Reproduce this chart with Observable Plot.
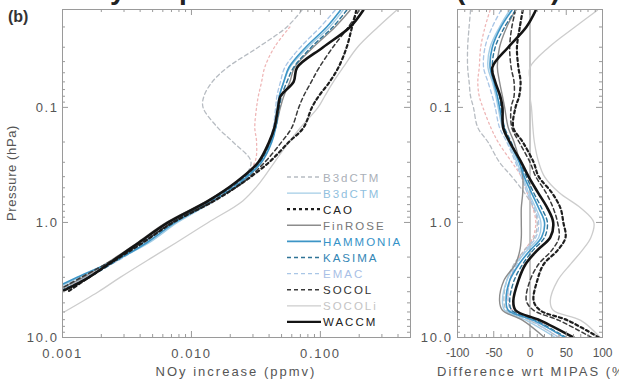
<!DOCTYPE html>
<html><head><meta charset="utf-8">
<script src="https://cdn.jsdelivr.net/npm/d3@7"></script>
<script src="https://cdn.jsdelivr.net/npm/@observablehq/plot@0.6"></script>
<style>
body{margin:0;background:#fff;}
#wrap{position:relative;width:619px;height:381px;overflow:hidden;font-family:"Liberation Sans",Arial,sans-serif;}
#wrap svg{position:absolute;top:0;overflow:visible;}
</style></head><body><div id="wrap"></div>
<script>
// ---------- data ----------
const seriesNames = ["B3dCTM","B3dCTM","CAO","FinROSE","HAMMONIA","KASIMA","EMAC","SOCOL","SOCOLi","WACCM"];
// pressure levels (hPa) for the NOy increase panel
const pLeft = [0.0143,0.02,0.03,0.045,0.06,0.08,0.1,0.15,0.2,0.3,0.45,0.65,1.0,1.5,2.0,3.0,4.0,6.0];
const incB3dCTMdash = [0.072,0.055,0.033,0.019,0.0145,0.0125,0.0123,0.016,0.021,0.029,0.023,0.014,0.0068,0.004,0.0027,0.0015,0.0009,null];
const incB3dCTM     = [0.15,0.118,0.08,0.058,0.052,0.048,0.046,0.044,0.041,0.034,0.024,0.015,0.0078,0.0047,0.0029,0.00135,0.0008,null];
const incCAO        = [0.19,0.176,0.16,0.138,0.118,0.097,0.086,0.074,0.057,0.040,0.025,0.015,0.0072,0.0042,0.0028,0.0016,0.0011,null];
const incFinROSE    = [0.17,0.13,0.088,0.063,0.058,0.052,0.049,0.045,0.041,0.033,0.022,0.0132,0.0064,0.0038,0.0026,0.00145,0.00085,null];
const incHAMMONIA   = [0.143,0.112,0.077,0.057,0.052,0.048,0.047,0.045,0.042,0.035,0.024,0.0148,0.0075,0.0045,0.0029,0.0013,0.00075,null];
const incKASIMA     = [0.16,0.125,0.085,0.062,0.055,0.05,0.048,0.045,0.041,0.034,0.023,0.0142,0.0071,0.0042,0.0029,0.0016,0.00092,null];
const incEMAC       = [0.13,0.1,0.07,0.053,0.049,0.046,0.045,0.043,0.04,0.033,0.023,0.0145,0.0074,0.0044,0.003,0.0015,0.0008,null];
const incSOCOL      = [0.2,0.165,0.125,0.098,0.085,0.074,0.068,0.060,0.050,0.037,0.025,0.0148,0.0071,0.0041,0.0027,0.0014,0.00088,null];
const incSOCOLi     = [0.39,0.28,0.194,0.15,0.126,0.108,0.096,0.07,0.057,0.044,0.034,0.025,0.0135,0.0076,0.005,0.0028,0.0019,0.00103];
const incWACCM      = [0.215,0.17,0.105,0.066,0.062,0.049,0.047,0.044,0.040,0.033,0.022,0.0135,0.0066,0.0039,0.0027,0.0016,0.00098,null];
const incUnlabeled  = [null,0.058,0.044,0.037,0.035,0.033,0.032,0.031,0.032,0.031,0.023,0.014,0.0069,0.004,0.0027,0.0015,0.0009,null];

// pressure levels (hPa) for the difference panel
const pRight = [0.0143,0.02,0.03,0.045,0.06,0.08,0.1,0.15,0.2,0.3,0.4,0.55,0.75,1.0,1.35,1.75,2.3,3.2,4.8,5.8,7.1,10];
const difB3dCTMdash = [-82,-84,-86,-86,-84,-82,-78,-72,-58,-42,-25,-8,5,10,6,-8,-22,-32,-36,-32,0,40];
const difB3dCTM     = [-28,-42,-55,-58,-52,-47,-44,-38,-30,-18,-10,-2,8,15,12,-4,-20,-32,-38,-35,-5,35];
const difCAO        = [-10,-14,-18,-16,-13,-15,-20,-23,-10,5,12,30,42,46,49,38,19,10,5,14,52,95];
const difFinROSE    = [-20,-32,-42,-45,-42,-38,-35,-30,-22,-14,-10,-10,-12,-12,-12,-14,-20,-36,-42,-38,-10,20];
const difHAMMONIA   = [-25,-40,-52,-55,-50,-45,-42,-36,-28,-15,-8,2,12,20,16,0,-15,-28,-33,-30,5,48];
const difKASIMA     = [-20,-35,-48,-52,-48,-42,-40,-35,-26,-14,-5,5,16,24,20,4,-10,-22,-28,-25,8,50];
const difEMAC       = [-40,-52,-62,-64,-58,-52,-48,-42,-32,-20,-12,-4,6,12,8,-6,-18,-28,-30,-26,2,40];
const difSOCOL      = [-20,-25,-28,-26,-22,-22,-26,-25,-15,0,8,22,32,38,40,30,12,0,-5,5,40,85];
const difSOCOLi     = [93,62,26,0,0,0,2,4,6,12,20,40,70,88,84,72,56,38,28,32,70,97];
const difWACCM      = [8,-5,-30,-52,-48,-41,-38,-37,-28,-12,-2,11,24,32,28,10,-6,-16,-23,-20,14,60];
const difUnlabeled  = [-55,-62,-68,-70,-72,-70,-65,-54,-44,-25,-12,-4,4,8,4,-8,-20,-28,-30,-24,10,45];

// ticks
const xTicksLeft = [0.001,0.01,0.1];
const xMinorLeft = [0.002,0.003,0.004,0.005,0.006,0.007,0.008,0.009,0.02,0.03,0.04,0.05,0.06,0.07,0.08,0.09,0.2,0.3,0.4];
const yTicks = [0.1,1,10];
const yMinor = [0.02,0.03,0.04,0.05,0.06,0.07,0.08,0.09,0.2,0.3,0.4,0.5,0.6,0.7,0.8,0.9,2,3,4,5,6,7,8,9];
const xTicksRight = [-100,-50,0,50,100];
const xMinorRight = [-90,-80,-70,-60,-40,-30,-20,-10,10,20,30,40,60,70,80,90];

// ---------- styles ----------
const seriesColors = ["#b7bcc2","#a3cde6","#1e1e1e","#8c8c8c","#3d95c6","#2f7396","#a9c6e6","#3a3a3a","#cdcdcd","#141414"];
const seriesDash   = ["4,3",null,"3,3",null,null,"4,3","4,3","4,3",null,null];
const seriesWidth  = [1.3,1.4,2.2,1.4,1.6,1.4,1.3,1.5,1.3,2.6];
const legendText   = ["#aab0b8","#8fc0de","#222","#777","#3592c8","#3486b5","#a8c0e6","#333","#c4c4c4","#222"];
const unlabeledColor = "#efb7b7";

const incArrays = [incB3dCTMdash,incB3dCTM,incCAO,incFinROSE,incHAMMONIA,incKASIMA,incEMAC,incSOCOL,incSOCOLi,incWACCM];
const difArrays = [difB3dCTMdash,difB3dCTM,difCAO,difFinROSE,difHAMMONIA,difKASIMA,difEMAC,difSOCOL,difSOCOLi,difWACCM];
const drawOrder = [0,8,6,1,3,5,4,7,2,9];

function rows(ps, vs){ return ps.map((p,i)=>({p, v: vs[i]})).filter(d=>d.v!=null); }

const H = 381, mT = 9, mB = 44, ih = H - mT - mB;
const font = '"Liberation Sans",Arial,sans-serif';
const frameColor = "#9a9a9a";

function tickMarks(iw, xMinor, xMajor){
  return [
    Plot.tickY(yMinor,{y:d=>d,insetRight:iw-3,stroke:frameColor}),
    Plot.tickY(yMinor,{y:d=>d,insetLeft:iw-3,stroke:frameColor}),
    Plot.tickY(yTicks,{y:d=>d,insetRight:iw-6,stroke:frameColor}),
    Plot.tickY(yTicks,{y:d=>d,insetLeft:iw-6,stroke:frameColor}),
    Plot.tickX(xMinor,{x:d=>d,insetTop:ih-3,stroke:frameColor}),
    Plot.tickX(xMinor,{x:d=>d,insetBottom:ih-3,stroke:frameColor}),
    Plot.tickX(xMajor,{x:d=>d,insetTop:ih-6,stroke:frameColor}),
    Plot.tickX(xMajor,{x:d=>d,insetBottom:ih-6,stroke:frameColor})
  ];
}
function seriesMarks(ps, arrays, unl){
  const m = [Plot.line(rows(ps, unl),{x:"v",y:"p",stroke:unlabeledColor,strokeWidth:1.3,strokeDasharray:"2,3",curve:"catmull-rom"})];
  for (const i of drawOrder){
    m.push(Plot.line(rows(ps, arrays[i]),{x:"v",y:"p",stroke:seriesColors[i],strokeWidth:seriesWidth[i],strokeDasharray:seriesDash[i]||undefined,curve:"catmull-rom"}));
  }
  return m;
}
const svgStyle = {background:"transparent",color:"#555",fontFamily:font,fontSize:"13px",letterSpacing:"1.6px",overflow:"visible"};

// ---------- left panel ----------
const W1 = 430, mL1 = 62, mR1 = 20, iw1 = W1 - mL1 - mR1;
const left = Plot.plot({
  width:W1, height:H, marginTop:mT, marginBottom:mB, marginLeft:mL1, marginRight:mR1,
  style:svgStyle,
  x:{type:"log", domain:[0.001,0.5]},
  y:{type:"log", domain:[0.0141,10], reverse:true},
  marks:[
    ...seriesMarks(pLeft, incArrays, incUnlabeled),
    Plot.frame({stroke:frameColor}),
    ...tickMarks(iw1, xMinorLeft, [0.01,0.1]),
    Plot.axisX({anchor:"bottom", ticks:xTicksLeft, tickFormat:d=>d.toFixed(3), tickSize:0, tickPadding:11, label:null}),
    Plot.axisY({anchor:"left", ticks:yTicks, tickFormat:d=>d.toFixed(1), tickSize:0, tickPadding:4, label:null})
  ],
  clip:true
});
left.style.left = "0px";

// ---------- right panel ----------
const X2 = 420, W2 = 199, mL2 = 37, mR2 = 17, iw2 = W2 - mL2 - mR2;
const right = Plot.plot({
  width:W2, height:H, marginTop:mT, marginBottom:mB, marginLeft:mL2, marginRight:mR2,
  style:svgStyle,
  x:{domain:[-100,100]},
  y:{type:"log", domain:[0.0141,10], reverse:true},
  marks:[
    Plot.ruleX([0],{stroke:"#a0a0a0",strokeWidth:1.2}),
    ...seriesMarks(pRight, difArrays, difUnlabeled),
    Plot.frame({stroke:frameColor}),
    ...tickMarks(iw2, xMinorRight, [-50,0,50]),
    Plot.axisX({anchor:"bottom", ticks:xTicksRight, tickFormat:d=>String(d), tickSize:0, tickPadding:11, label:null, fontSize:12}),
    Plot.axisY({anchor:"left", ticks:yTicks, tickFormat:d=>d.toFixed(1), tickSize:0, tickPadding:5, label:null})
  ],
  clip:true
});
right.style.left = X2 + "px";
d3.select(right).selectAll('g[aria-label="x-axis tick label"]').attr("letter-spacing","-0.2px").style("letter-spacing","-0.2px");

const wrap = document.getElementById("wrap");
wrap.appendChild(left);
wrap.appendChild(right);

// ---------- overlay: legend, labels ----------
const ov = d3.select(wrap).append("svg").attr("width",619).attr("height",381).style("left","0px")
  .attr("font-family",font);
// title (only its descenders are visible at the top edge)
const t = ov.append("text").attr("y",-1.5).attr("font-size",28).attr("font-weight","bold").attr("fill","#222");
t.append("tspan").attr("x",68).text("NOy");
t.append("tspan").attr("x",179).text("polar winter");
t.append("tspan").attr("x",456).text("(2003/4)");
ov.append("text").attr("x",8).attr("y",22).attr("font-size",16).attr("font-weight","bold").attr("fill","#333").text("(b)");
ov.append("text").attr("transform","translate(16,173) rotate(-90)").attr("text-anchor","middle")
  .attr("font-size",13).attr("fill","#555").attr("letter-spacing","0.6px").text("Pressure (hPa)");
ov.append("text").attr("x",236).attr("y",376).attr("text-anchor","middle").attr("font-size",13)
  .attr("fill","#555").attr("letter-spacing","2px").text("NOy increase (ppmv)");
ov.append("text").attr("x",437).attr("y",376).attr("font-size",13)
  .attr("fill","#555").attr("letter-spacing","2px").text("Difference wrt MIPAS (%)");
// legend
const lg = ov.append("g");
seriesNames.forEach((n,i)=>{
  const y = 177 + i*16.1;
  lg.append("line").attr("x1",287).attr("x2",321).attr("y1",y).attr("y2",y)
    .attr("stroke",seriesColors[i]).attr("stroke-width",Math.min(seriesWidth[i],2.2))
    .attr("stroke-dasharray",seriesDash[i]);
  lg.append("text").attr("x",323).attr("y",y+4.5).attr("font-size",11.5).attr("letter-spacing","2px")
    .attr("fill",legendText[i]).text(n);
});
</script></body></html>
